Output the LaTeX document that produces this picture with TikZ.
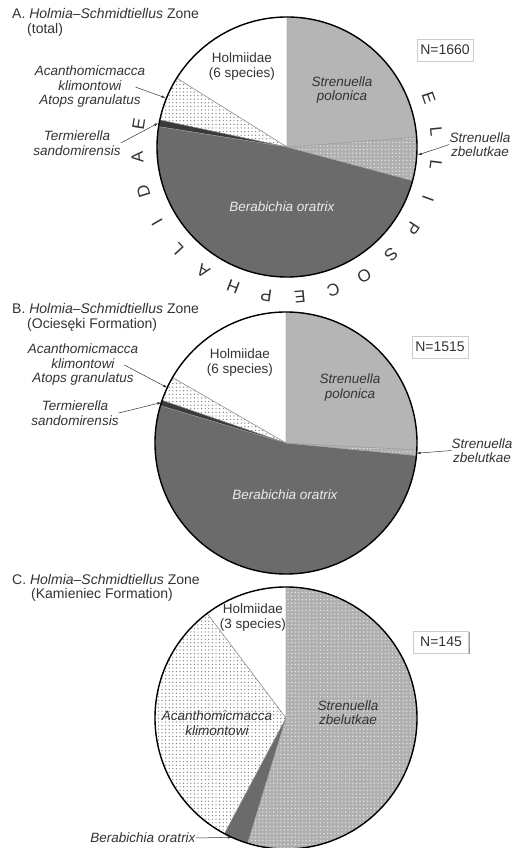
\documentclass[tikz,border=0pt]{standalone}
\usepackage{fontspec}
\setmainfont{Liberation Sans}
\usetikzlibrary{arrows.meta,patterns.meta,shadows,calc}

\definecolor{polgray}{HTML}{B5B5B5}
\definecolor{zbgray}{HTML}{B0B0B0}
\definecolor{beragray}{HTML}{6B6B6B}
\definecolor{termgray}{HTML}{3A3A3A}
\definecolor{inkgray}{HTML}{333333}

\tikzset{
  cut/.style={draw=gray!80, line width=0.4pt},
  rim/.style={draw=black, line width=1.4pt},
  wdots/.style={cut, pattern={Dots[distance=3.6pt,radius=0.7pt]}, pattern color=gray},
  gdots/.style={cut, preaction={fill=zbgray}, pattern={Dots[distance=3.6pt,radius=0.7pt]}, pattern color=white!85!gray},
  lbl/.style={font=\fontsize{13.5}{14.5}\selectfont\itshape, text=inkgray, align=center, inner sep=0pt},
  grp/.style={lbl, font=\fontsize{13.5}{14.5}\selectfont},
  ttl/.style={font=\fontsize{14}{16}\selectfont, text=inkgray, anchor=west, inner sep=0pt},
  nbox/.style={font=\fontsize{14}{16}\selectfont, text=inkgray, draw=gray!40, fill=white, inner sep=3pt,
    minimum width=55pt, minimum height=22pt,
    drop shadow={shadow xshift=1pt, shadow yshift=-1pt, fill=gray!80, opacity=1}},
  ptr/.style={draw=inkgray, line width=0.5pt, -{Latex[length=4pt,width=2.6pt]}},
  arcltr/.style={font=\fontsize{17}{17}\selectfont, text=inkgray, inner sep=0pt}
}

\begin{document}
\begin{tikzpicture}[x=1pt,y=1pt]
\path[use as bounding box, fill=white] (0,0) rectangle (511,848);

\coordinate (cA) at (287,701);
\coordinate (cB) at (286,405);
\coordinate (cC) at (286,130);

% A: total
\draw[cut, fill=white] (cA) -- ++(90:130) arc[start angle=90, end angle=148, radius=130] -- cycle;
\draw[wdots] (cA) -- ++(148:130) arc[start angle=148, end angle=168, radius=130] -- cycle;
\draw[cut, fill=termgray] (cA) -- ++(168:130) arc[start angle=168, end angle=171, radius=130] -- cycle;
\draw[cut, fill=beragray] (cA) -- ++(171:130) arc[start angle=171, end angle=345, radius=130] -- cycle;
\draw[gdots] (cA) -- ++(-15:130) arc[start angle=-15, end angle=4.4, radius=130] -- cycle;
\draw[cut, fill=polgray] (cA) -- ++(4.4:130) arc[start angle=4.4, end angle=90, radius=130] -- cycle;
\draw[rim] (cA) circle[radius=130];

\node[ttl] (ttlA) at (12,834) {A. \textit{Holmia--Schmidtiellus} Zone};
\node[ttl] (subA) at (27,818) {(total)};
\node[nbox] (nA) at (445,798) {N=1660};

\node[grp] (hoA) at (242,781.5) {Holmiidae\\(6 species)};
\node[lbl] (poA) at (342,758) {Strenuella\\polonica};
\node[lbl, text=white!92!black] (beA) at (282,641) {Berabichia oratrix};

\node[lbl] (acA) at (90,761) {Acanthomicmacca\\klimontowi\\Atops granulatus};
\node[lbl] (tmA) at (77,705) {Termierella\\sandomirensis};
\node[lbl] (zbA) at (480,703.5) {Strenuella\\zbelutkae};
\coordinate (tAac) at ($(cA)+(158:131)$);
\coordinate (tAtm) at ($(cA)+(169.5:131)$);
\coordinate (tAzb) at ($(cA)+(-3.5:131)$);
\draw[ptr] ([xshift=-10pt]acA.east) -- (tAac);
\draw[ptr] (tmA.east) -- (tAtm);
\draw[ptr] (zbA.west) -- (tAzb);

\foreach \ch [count=\i from 0] in {E,L,L,I,P,S,O,C,E,P,H,A,L,I,D,A,E}
  \node[arcltr, rotate=-71-13*\i] (ell\i) at ($(cA)+({19-13*\i}:150)$) {\ch};

% B: Ociesęki Formation
\draw[cut, fill=white] (cB) -- ++(90:131) arc[start angle=90, end angle=150, radius=131] -- cycle;
\draw[wdots] (cB) -- ++(150:131) arc[start angle=150, end angle=161, radius=131] -- cycle;
\draw[cut, fill=termgray] (cB) -- ++(161:131) arc[start angle=161, end angle=163.5, radius=131] -- cycle;
\draw[cut, fill=beragray] (cB) -- ++(163.5:131) arc[start angle=163.5, end angle=354.5, radius=131] -- cycle;
\draw[gdots] (cB) -- ++(-5.5:131) arc[start angle=-5.5, end angle=-3, radius=131] -- cycle;
\draw[cut, fill=polgray] (cB) -- ++(-3:131) arc[start angle=-3, end angle=90, radius=131] -- cycle;
\draw[rim] (cB) circle[radius=131];

\node[ttl] (ttlB) at (12,539) {B. \textit{Holmia--Schmidtiellus} Zone};
\node[ttl] (subB) at (27,523) {(Ociesęki Formation)};
\node[nbox] (nB) at (440,501) {N=1515};

\node[grp] (hoB) at (240,485.5) {Holmiidae\\(6 species)};
\node[lbl] (poB) at (350,460.5) {Strenuella\\polonica};
\node[lbl, text=white!92!black] (beB) at (285,353) {Berabichia oratrix};

\node[lbl] (acB) at (83,483) {Acanthomicmacca\\klimontowi\\Atops granulatus};
\node[lbl] (tmB) at (75,435) {Termierella\\sandomirensis};
\node[lbl] (zbB) at (482,397.5) {Strenuella\\zbelutkae};
\coordinate (tBac) at ($(cB)+(155:131)$);
\coordinate (tBtm) at ($(cB)+(162:131)$);
\coordinate (tBzb) at ($(cB)+(-4.5:131)$);
\draw[ptr] ([xshift=-14pt]acB.east) -- (tBac);
\draw[ptr] (tmB.east) -- (tBtm);
\draw[ptr] (zbB.west) -- (tBzb);

% C: Kamieniec Formation
\draw[cut, fill=white] (cC) -- ++(90:131) arc[start angle=90, end angle=127, radius=131] -- cycle;
\draw[wdots] (cC) -- ++(127:131) arc[start angle=127, end angle=242, radius=131] -- cycle;
\draw[cut, fill=beragray] (cC) -- ++(242:131) arc[start angle=242, end angle=253, radius=131] -- cycle;
\draw[gdots] (cC) -- ++(253:131) arc[start angle=253, end angle=450, radius=131] -- cycle;
\draw[rim] (cC) circle[radius=131];

\node[ttl] (ttlC) at (12,268) {C. \textit{Holmia--Schmidtiellus} Zone};
\node[ttl] (subC) at (31,253) {(Kamieniec Formation)};
\node[nbox] (nC) at (441,206) {N=145};

\node[grp] (hoC) at (253,230.5) {Holmiidae\\(3 species)};
\node[lbl] (zbC) at (348,135.5) {Strenuella\\zbelutkae};
\node[lbl] (acC) at (217,125) {Acanthomicmacca\\klimontowi};

\node[lbl] (beC) at (143,10) {Berabichia oratrix};
\coordinate (tCbe) at ($(cC)+(245.6:131)$);
\draw[ptr] (beC.east) -- (tCbe);
\end{tikzpicture}
\end{document}
